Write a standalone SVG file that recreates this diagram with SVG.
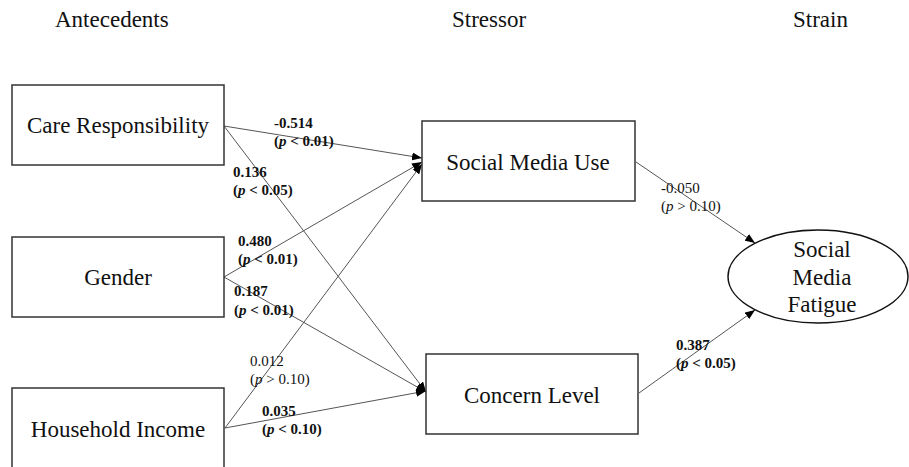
<svg xmlns="http://www.w3.org/2000/svg" width="909" height="467" viewBox="0 0 909 467">
<style>
text{font-family:"Liberation Serif","Times New Roman",serif;fill:#111}
.hd{font-size:23px}
.nd{font-size:23px;text-anchor:middle}
.lb{font-size:15px}
.b{font-weight:bold}
.box{fill:#fff;stroke:#333;stroke-width:1.5}
.ed{stroke:#555;stroke-width:1;fill:none;marker-end:url(#ah)}
</style>
<defs>
<marker id="ah" markerUnits="userSpaceOnUse" markerWidth="10" markerHeight="8" refX="10" refY="4" orient="auto">
<path d="M0,0 L10,4 L0,8 z" fill="#000"/>
</marker>
</defs>
<g id="headers">
<text class="hd" x="55" y="27">Antecedents</text>
<text class="hd" x="452" y="27">Stressor</text>
<text class="hd" x="793" y="27">Strain</text>
</g>
<g id="connectors">
<line class="ed" x1="224" y1="126" x2="422" y2="158"/>
<line class="ed" x1="224" y1="126" x2="426" y2="392"/>
<line class="ed" x1="224" y1="277" x2="422" y2="162"/>
<line class="ed" x1="224" y1="277" x2="426" y2="392"/>
<line class="ed" x1="225" y1="428" x2="422" y2="164"/>
<line class="ed" x1="225" y1="428" x2="426" y2="391"/>
<line class="ed" x1="636" y1="162" x2="755" y2="243"/>
<line class="ed" x1="639" y1="393" x2="755" y2="310"/>
</g>
<g id="edge-labels">
<text class="lb b" x="274" y="128">-0.514</text>
<text class="lb b" x="274" y="146">(<tspan font-style="italic">p</tspan> &lt; 0.01)</text>
<text class="lb b" x="233" y="177">0.136</text>
<text class="lb b" x="233" y="195">(<tspan font-style="italic">p</tspan> &lt; 0.05)</text>
<text class="lb b" x="238" y="246">0.480</text>
<text class="lb b" x="238" y="264">(<tspan font-style="italic">p</tspan> &lt; 0.01)</text>
<text class="lb b" x="234" y="296">0.187</text>
<text class="lb b" x="234" y="315">(<tspan font-style="italic">p</tspan> &lt; 0.01)</text>
<text class="lb" x="250" y="366">0.012</text>
<text class="lb" x="250" y="384">(<tspan font-style="italic">p</tspan> &gt; 0.10)</text>
<text class="lb b" x="262" y="416">0.035</text>
<text class="lb b" x="262" y="434">(<tspan font-style="italic">p</tspan> &lt; 0.10)</text>
<text class="lb" x="661" y="193">-0.050</text>
<text class="lb" x="661" y="211">(<tspan font-style="italic">p</tspan> &gt; 0.10)</text>
<text class="lb b" x="676" y="350">0.387</text>
<text class="lb b" x="676" y="368">(<tspan font-style="italic">p</tspan> &lt; 0.05)</text>
</g>
<g id="care">
<rect class="box" x="12" y="85" width="212" height="80"/>
<text class="nd" x="118" y="133">Care Responsibility</text>
</g>
<g id="gender">
<rect class="box" x="12" y="237" width="212" height="80"/>
<text class="nd" x="118" y="285">Gender</text>
</g>
<g id="income">
<rect class="box" x="12" y="388" width="212" height="82"/>
<text class="nd" x="118" y="437">Household Income</text>
</g>
<g id="smu">
<rect class="box" x="422" y="121" width="213" height="80"/>
<text class="nd" x="528" y="170">Social Media Use</text>
</g>
<g id="concern">
<rect class="box" x="426" y="354" width="212" height="80"/>
<text class="nd" x="532" y="403">Concern Level</text>
</g>
<g id="fatigue">
<ellipse cx="818" cy="276.5" rx="90" ry="46.5" fill="#fff" stroke="#111" stroke-width="1.5"/>
<text class="nd" x="822" y="257">Social</text>
<text class="nd" x="822" y="285">Media</text>
<text class="nd" x="822" y="312">Fatigue</text>
</g>
</svg>
